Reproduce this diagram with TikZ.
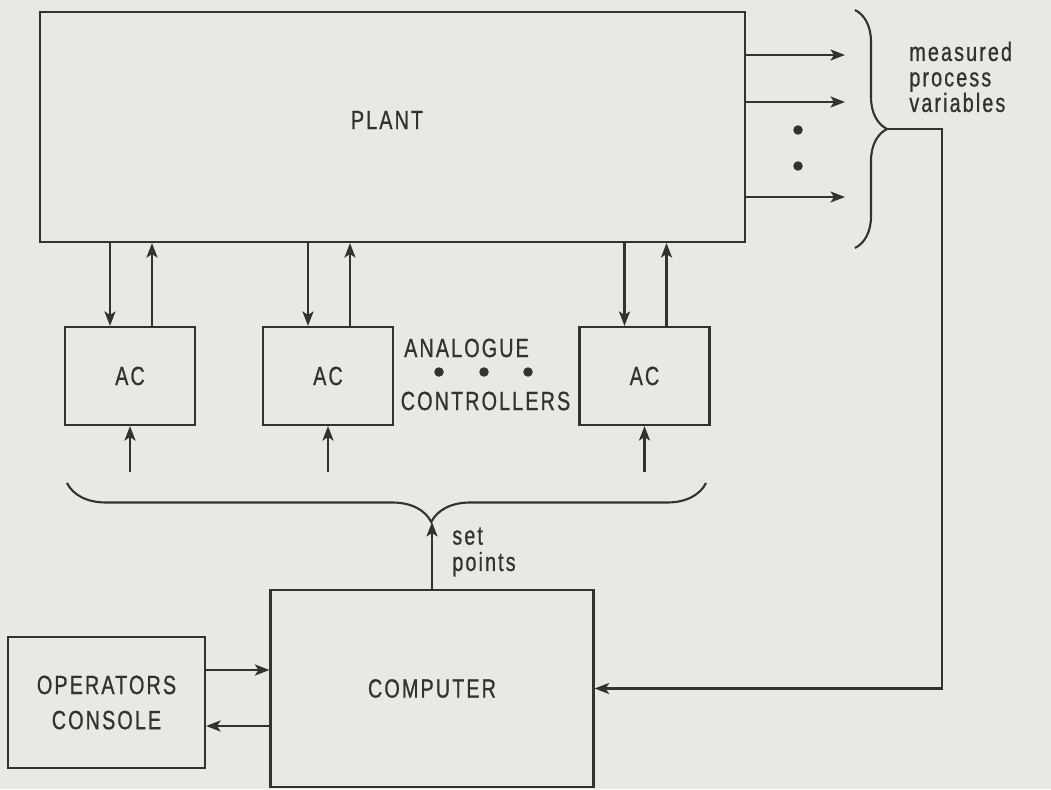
\documentclass[tikz,border=0pt]{standalone}
\usepackage{fontspec}
\setmainfont{Liberation Sans}[LetterSpace=8, FakeStretch=0.75, FakeBold=0.8]
\usetikzlibrary{arrows.meta, decorations.pathreplacing, calc}

\definecolor{paper}{RGB}{233,233,227}
\definecolor{ink}{RGB}{50,50,46}

\begin{document}
\begin{tikzpicture}[
    % Define styles
    block/.style={
        draw=ink,
        line width=1.2pt,
        inner sep=0pt,
        align=center,
        font=\fontsize{15}{20}\selectfont,
        text=ink
    },
    acbox/.style={
        block,
        minimum width=2.6cm,
        minimum height=1.96cm
    },
    txt/.style={
        font=\fontsize{15}{14.5}\selectfont,
        text=ink,
        inner sep=0pt,
        align=left
    },
    arrow/.style={
        -{Stealth[length=2.9mm, width=2.2mm, inset=0.7mm]},
        line width=1.2pt,
        ink
    },
    bracket/.style={
        decorate,
        decoration={brace, amplitude=#1},
        line width=1.2pt,
        ink
    },
    dot/.style={
        circle,
        fill=ink,
        inner sep=0pt,
        minimum size=1.9mm
    }
]

% background / page size
\fill[paper] (0,0) rectangle (21.02,15.78);
\useasboundingbox (0,0) rectangle (21.02,15.78);

% ============================================================
% Plant
% ============================================================
\node[block, minimum width=14.1cm, minimum height=4.6cm] (plant) at (7.85, 13.24) {};
\node[txt] (plant_label) at (7.74, 13.38) {PLANT};

% measured outputs
\coordinate (out1) at (16.9, 14.68);
\coordinate (out2) at (16.9, 13.74);
\coordinate (out3) at (16.9, 11.84);
\foreach \o in {out1, out2, out3}
    \draw[arrow] (plant.east |- \o) -- (\o);
\node[dot] (vdot1) at (15.96, 13.18) {};
\node[dot] (vdot2) at (15.96, 12.46) {};

% brace round the outputs
\coordinate (mpv_top) at (17.1, 15.58);
\coordinate (mpv_bot) at (17.1, 10.82);
\coordinate (mpv_tip) at (17.74, 13.2);
\draw[bracket=0.64cm] (mpv_top) -- (mpv_bot);
\node[txt, anchor=west] (mpv_label) at (18.18, 14.24) {measured\\process\\variables};

% ============================================================
% Analogue controllers
% ============================================================
\node[acbox] (ac1) at (2.6, 8.26) {AC};
\node[acbox] (ac2) at (6.56, 8.26) {AC};
\node[acbox] (ac3) at (12.89, 8.26) {AC};

\node[txt] (analogue) at (9.33, 8.82) {ANALOGUE};
\node[dot] (acdot1) at (8.78, 8.34) {};
\node[dot] (acdot2) at (9.68, 8.34) {};
\node[dot] (acdot3) at (10.56, 8.34) {};
\node[txt] (controllers) at (9.71, 7.76) {CONTROLLERS};

% set point inputs and their brace
\coordinate (sp_level) at (0, 6.34);
\coordinate (sp_right) at (14.12, 6.12);
\coordinate (sp_left) at (1.34, 6.12);
\coordinate (sp_tip) at (8.64, 5.34);
\draw[bracket=0.78cm, decoration={aspect=0.43}] (sp_right) -- (sp_left);

% plant <-> controllers
\foreach \ac in {ac1, ac2, ac3} {
    \draw[arrow] ([xshift=-0.4cm]\ac.north |- plant.south) -- ([xshift=-0.4cm]\ac.north);
    \draw[arrow] ([xshift=0.44cm]\ac.north) -- ([xshift=0.44cm]\ac.north |- plant.south);
    \draw[arrow] (\ac.south |- sp_level) -- (\ac.south);
}

% ============================================================
% Computer and console
% ============================================================
\node[block, minimum width=6.46cm, minimum height=3.94cm] (computer) at (8.64, 2.01) {COMPUTER};
\node[block, minimum width=3.94cm, minimum height=2.62cm] (console) at (2.13, 1.73) {OPERATORS\\CONSOLE};

\draw[arrow] (computer.north) -- (sp_tip);
\node[txt, anchor=west, font=\fontsize{15}{15}\selectfont] (setpts) at (9.04, 4.74) {set\\points};

\draw[arrow] ([yshift=0.65cm]console.east) -- ([yshift=0.65cm]console.east -| computer.west);
\draw[arrow] ([yshift=-0.47cm]console.east -| computer.west) -- ([yshift=-0.47cm]console.east);

% feedback of measured variables
\coordinate (fb_turn) at (18.84, 13.2);
\draw[arrow] (mpv_tip) -- (fb_turn) |- (computer.east);

\end{tikzpicture}
\end{document}
